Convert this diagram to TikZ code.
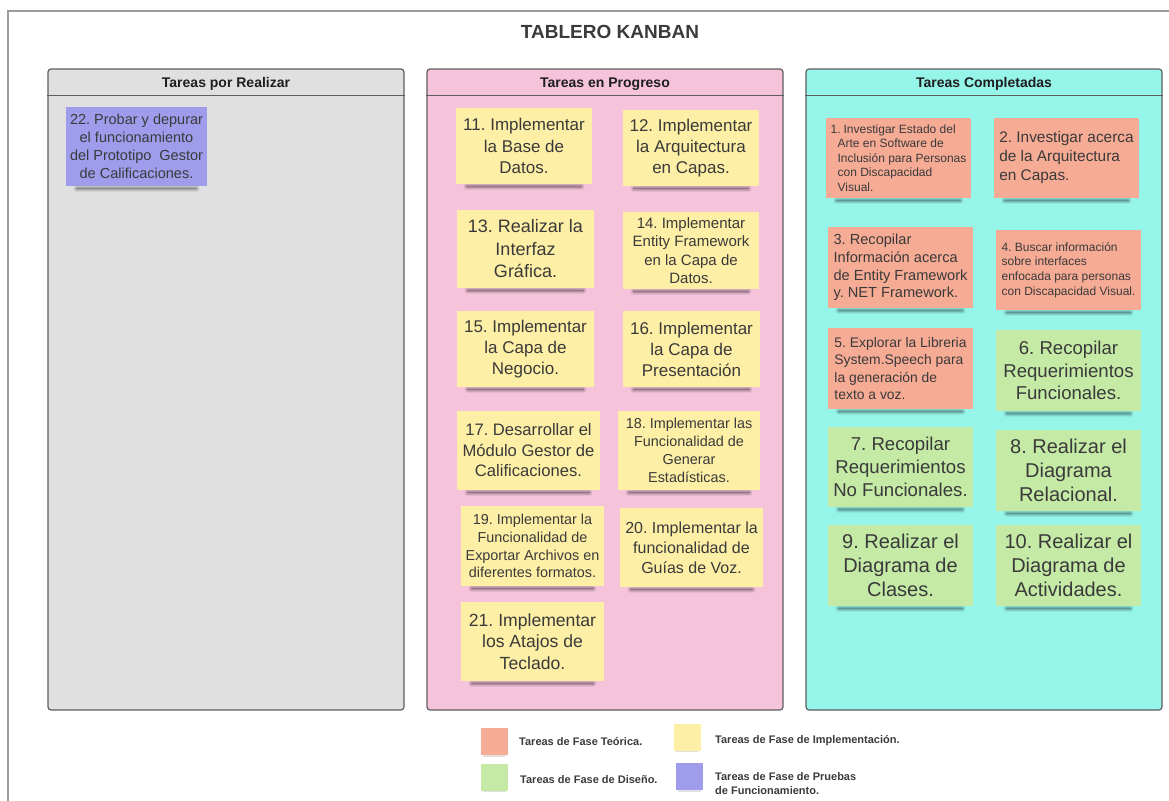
\documentclass[tikz,border=0pt]{standalone}
\usepackage{fontspec}
\setmainfont{Liberation Sans}
\frenchspacing

\definecolor{framegray}{HTML}{9B9B9B}
\definecolor{colline}{HTML}{5E5E5E}
\definecolor{todofill}{HTML}{E0E0E0}
\definecolor{progfill}{HTML}{F5C3DA}
\definecolor{donefill}{HTML}{95F5E9}
\definecolor{impl}{HTML}{FEEFA6}
\definecolor{theory}{HTML}{F6AB95}
\definecolor{design}{HTML}{C4EAA6}
\definecolor{testing}{HTML}{9F9CEC}
\definecolor{notetxt}{HTML}{3A3A3A}
\definecolor{headtxt}{HTML}{1E1E1E}

\newcommand{\fs}[2]{\fontsize{#1}{#2}\selectfont}

\pgfdeclarelayer{boardlayer}
\pgfdeclarelayer{shadelayer}
\pgfsetlayers{boardlayer,shadelayer,main}

\tikzset{
  board/.style={draw=framegray, line width=1.5pt},
  column/.style={draw=colline, line width=1.2pt, rounded corners=3pt, inner sep=0pt},
  colhead/.style={font=\bfseries\fs{14}{17}, text=headtxt, anchor=base},
  note/.style={inner sep=0pt, text=notetxt},
  ctext/.style={align=center},
  ltext/.style={align=left},
  legtext/.style={anchor=west, font=\bfseries\fs{11}{13.5}, text=notetxt, inner sep=0pt, align=left},
  legbox/.style={note, minimum width=27pt, minimum height=27pt},
  softshade/.style={black, line cap=round},
}

% soft band under a sticky note: #1 node, #2 horizontal inset, #3 drop
\newcommand{\noteshade}[3]{%
  \draw[softshade, line width=7pt, opacity=0.06] ([xshift=#2pt, yshift=-#3pt]#1.south west) -- ([xshift=-#2pt, yshift=-#3pt]#1.south east);
  \draw[softshade, line width=5pt, opacity=0.09] ([xshift=#2pt, yshift=-#3pt]#1.south west) -- ([xshift=-#2pt, yshift=-#3pt]#1.south east);
  \draw[softshade, line width=3pt, opacity=0.13] ([xshift=#2pt, yshift=-#3pt]#1.south west) -- ([xshift=-#2pt, yshift=-#3pt]#1.south east);
  \draw[softshade, line width=1.5pt, opacity=0.16] ([xshift=#2pt, yshift=-#3pt]#1.south west) -- ([xshift=-#2pt, yshift=-#3pt]#1.south east);
}

\begin{document}
\begin{tikzpicture}[x=1pt, y=-1pt]
\useasboundingbox (0,0) rectangle (1169,800);

\begin{pgfonlayer}{boardlayer}
% outer board frame
\draw[board] (8,840) -- (8,11) -- (1200,11);
% columns
\node[column, fill=todofill, minimum width=356pt, minimum height=641pt] (c1) at (226,389.5) {};
\node[column, fill=progfill, minimum width=356pt, minimum height=641pt] (c2) at (605,389.5) {};
\node[column, fill=donefill, minimum width=356pt, minimum height=641pt] (c3) at (984,389.5) {};
\foreach \c in {c1,c2,c3}
  \draw[draw=colline, line width=1.2pt] ([yshift=-27pt]\c.north west) -- ([yshift=-27pt]\c.north east);
\end{pgfonlayer}

\node[font=\bfseries\fs{19}{22}, text=notetxt] (title) at (610,32) {TABLERO KANBAN};
\node[colhead] (h1) at ([yshift=-19pt]c1.north) {Tareas por Realizar};
\node[colhead] (h2) at ([yshift=-19pt]c2.north) {Tareas en Progreso};
\node[colhead] (h3) at ([yshift=-19pt]c3.north) {Tareas Completadas};

% to do
\node[note, ctext, fill=testing, minimum width=141pt, minimum height=79pt, font=\fs{14.5}{18}] (t22) at (136.5,146.5)
  {22. Probar y depurar\\el funcionamiento\\del Prototipo\ \ Gestor\\de Calificaciones.};

% in progress
\node[note, ctext, fill=impl, minimum width=136pt, minimum height=76pt, font=\fs{17}{21.3}] (t11) at (524,146)
  {11. Implementar\\la Base de\\Datos.};
\node[note, ctext, fill=impl, minimum width=136pt, minimum height=76pt, font=\fs{17}{21.3}] (t12) at (691,148)
  {12. Implementar\\la Arquitectura\\en Capas.};
\node[note, ctext, fill=impl, minimum width=137pt, minimum height=78pt, font=\fs{18}{22.5}] (t13) at (525.5,249)
  {13. Realizar la\\Interfaz\\Gráfica.};
\node[note, ctext, fill=impl, minimum width=136pt, minimum height=77pt, font=\fs{15}{18.5}] (t14) at (691,250.5)
  {14. Implementar\\Entity Framework\\en la Capa de\\Datos.};
\node[note, ctext, fill=impl, minimum width=137pt, minimum height=76pt, font=\fs{17}{21}] (t15) at (525.5,349)
  {15. Implementar\\la Capa de\\Negocio.};
\node[note, ctext, fill=impl, minimum width=137pt, minimum height=76pt, font=\fs{17}{21}] (t16) at (691.5,349)
  {16. Implementar\\la Capa de\\Presentación};
\node[note, ctext, fill=impl, minimum width=143pt, minimum height=79pt, font=\fs{16.6}{20.5}] (t17) at (528.5,450.5)
  {17. Desarrollar el\\Módulo Gestor de\\Calificaciones.};
\node[note, ctext, fill=impl, minimum width=142pt, minimum height=79pt, font=\fs{14.4}{17.8}] (t18) at (689,450.5)
  {18. Implementar las\\Funcionalidad de\\Generar\\Estadísticas.};
\node[note, ctext, fill=impl, minimum width=143pt, minimum height=80pt, font=\fs{14.4}{17.8}] (t19) at (532.5,546)
  {19. Implementar la\\Funcionalidad de\\Exportar Archivos en\\diferentes formatos.};
\node[note, ctext, fill=impl, minimum width=143pt, minimum height=79pt, font=\fs{16}{20}] (t20) at (691.5,547.5)
  {20. Implementar la\\funcionalidad de\\Guías de Voz.};
\node[note, ctext, fill=impl, minimum width=143pt, minimum height=79pt, font=\fs{17.6}{21.7}] (t21) at (532.5,641.5)
  {21. Implementar\\los Atajos de\\Teclado.};

% done
\node[note, ltext, fill=theory, minimum width=145pt, minimum height=80pt, font=\fs{12}{14.6}] (t1) at (898.5,158)
  {1.\hspace{3pt}Investigar Estado del\\\hspace*{7pt}Arte en Software de\\\hspace*{7pt}Inclusión para Personas\\\hspace*{7pt}con Discapacidad\\\hspace*{7pt}Visual.};
\node[note, ltext, fill=theory, minimum width=145pt, minimum height=80pt, font=\fs{15.4}{19}] (t2) at (1066.5,158)
  {2. Investigar acerca\\de la Arquitectura\\en Capas.};
\node[note, ltext, fill=theory, minimum width=145pt, minimum height=81pt, font=\fs{14.6}{17.8}] (t3) at (900.5,267.5)
  {3. Recopilar\\Información acerca\\de Entity Framework\\y. NET Framework.};
\node[note, ltext, fill=theory, minimum width=145pt, minimum height=80pt, font=\fs{12}{14.6}] (t4) at (1068.5,270)
  {4. Buscar información\\sobre interfaces\\enfocada para personas\\con Discapacidad Visual.};
\node[note, ltext, fill=theory, minimum width=145pt, minimum height=81pt, font=\fs{13.9}{17.4}] (t5) at (900.5,368.5)
  {5. Explorar la Libreria\\System.Speech para\\la generación de\\texto a voz.};
\node[note, ctext, fill=design, minimum width=145pt, minimum height=81pt, font=\fs{18.6}{22.8}] (t6) at (1068.5,370.5)
  {6. Recopilar\\Requerimientos\\Funcionales.};
\node[note, ctext, fill=design, minimum width=145pt, minimum height=80pt, font=\fs{18.6}{23}] (t7) at (900.5,467)
  {7. Recopilar\\Requerimientos\\No Funcionales.};
\node[note, ctext, fill=design, minimum width=145pt, minimum height=81pt, font=\fs{20}{24}] (t8) at (1068.5,470.5)
  {8. Realizar el\\Diagrama\\Relacional.};
\node[note, ctext, fill=design, minimum width=145pt, minimum height=81pt, font=\fs{20}{24}] (t9) at (900.5,565.5)
  {9. Realizar el\\Diagrama de\\Clases.};
\node[note, ctext, fill=design, minimum width=145pt, minimum height=81pt, font=\fs{20}{24}] (t10) at (1068.5,565.5)
  {10. Realizar el\\Diagrama de\\Actividades.};

% legend
\node[legbox, fill=theory] (lg1) at (494.5,741.5) {};
\node[legbox, fill=impl] (lg2) at (687,737) {};
\node[legbox, fill=design] (lg3) at (494.5,777) {};
\node[legbox, fill=testing] (lg4) at (689.5,776.5) {};
\node[legtext] (lt1) at (519,742) {Tareas de Fase Teórica.};
\node[legtext] (lt2) at (715,740.5) {Tareas de Fase de Implementación.};
\node[legtext] (lt3) at (520,780) {Tareas de Fase de Diseño.};
\node[legtext] (lt4) at (715,783.5) {Tareas de Fase de Pruebas\\de Funcionamiento.};

% shadows under the notes
\begin{pgfonlayer}{shadelayer}
\foreach \n in {t1,t2,t3,t4,t5,t6,t7,t8,t9,t10,t11,t12,t13,t14,t15,t16,t17,t18,t19,t20,t21,t22}
  {\noteshade{\n}{11}{2.5}}
\foreach \n in {lg1,lg2,lg3,lg4}
  {\draw[softshade, line width=2pt, opacity=0.12] ([xshift=3pt, yshift=-0.5pt]\n.south west) -- ([xshift=-3pt, yshift=-0.5pt]\n.south east);}
\end{pgfonlayer}
\end{tikzpicture}
\end{document}
